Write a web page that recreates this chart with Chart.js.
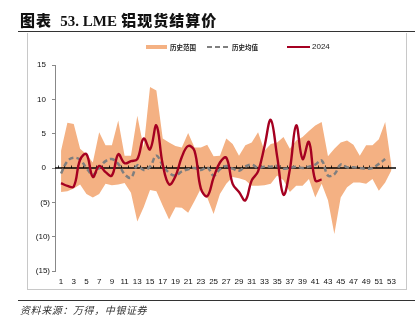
<!DOCTYPE html>
<html>
<head>
<meta charset="utf-8">
<script src="https://cdn.jsdelivr.net/npm/chart.js@4"></script>
<style>
  body { margin: 0; background: #fff; }
  #wrap { position: relative; width: 420px; height: 322px; overflow: hidden; font-family: "Liberation Sans", Arial, sans-serif; }
  #chart { position: absolute; left: 0; top: 0; }
  .abs { position: absolute; white-space: nowrap; }
  .title { left: 20px; top: 9px; font-size: 15px; font-weight: bold; color: #111; }
  .title .cn { font-family: "Noto Sans CJK SC", sans-serif; font-weight: 900; letter-spacing: 1px; }
  .title .en { font-family: "Liberation Serif", serif; font-weight: bold; }
  .rule { position: absolute; }
  .leg { font-family: "Noto Sans CJK SC", sans-serif; font-size: 6.5px; font-weight: bold; color: #222; top: 42px; }
  .src { left: 20px; top: 302px; font-family: "Noto Sans CJK SC", sans-serif; font-size: 10px; font-style: italic; color: #333; letter-spacing: 0.6px; }
</style>
</head>
<body>
<div id="wrap">
  <canvas id="chart" width="420" height="322"></canvas>

  <div class="abs title"><span class="cn">图表</span>&nbsp; <span class="en">53. LME</span> <span class="cn">铝现货结算价</span></div>
  <div class="rule" style="left:18px;top:31px;width:397px;height:1.3px;background:#333;"></div>
  <div class="rule" style="left:27px;top:33px;width:1px;height:256px;background:#c8c8c8;"></div>
  <div class="rule" style="left:406px;top:33px;width:1px;height:256px;background:#c8c8c8;"></div>
  <div class="rule" style="left:27px;top:289px;width:380px;height:1px;background:#c8c8c8;"></div>
  <div class="rule" style="left:18px;top:300px;width:397px;height:1.3px;background:#333;"></div>

  <!-- legend -->
  <div class="rule" style="left:146px;top:45px;width:21px;height:4px;background:#F4B183;"></div>
  <div class="abs leg" style="left:170px;">历史范围</div>
  <div class="rule" style="left:207px;top:46px;width:21px;height:2px;background:repeating-linear-gradient(90deg,#7F7F7F 0 5px,transparent 5px 8px);"></div>
  <div class="abs leg" style="left:232px;">历史均值</div>
  <div class="rule" style="left:287px;top:46px;width:23px;height:2px;background:#A50021;"></div>
  <div class="abs" style="left:312px;top:42px;font-size:8px;color:#222;">2024</div>

  <div class="abs src">资料来源：万得，中银证券</div>
</div>

<script>
// week numbers
const weeks = [1, 2, 3, 4, 5, 6, 7, 8, 9, 10, 11, 12, 13, 14, 15, 16, 17, 18, 19, 20,
    21, 22, 23, 24, 25, 26, 27, 28, 29, 30, 31, 32, 33, 34, 35, 36, 37, 38, 39, 40,
    41, 42, 43, 44, 45, 46, 47, 48, 49, 50, 51, 52, 53];
const xTickLabels = [1, 3, 5, 7, 9, 11, 13, 15, 17, 19, 21, 23, 25, 27, 29, 31, 33, 35, 37,
    39, 41, 43, 45, 47, 49, 51, 53];
const yTickValues = [15, 10, 5, 0, -5, -10, -15];

// historical range (max / min)
const rangeHigh = [2.5, 6.6, 6.4, 2.8, 2.0, 0.8, 5.2, 3.3, 3.3, 6.9, 1.8, 1.8, 7.6, 3.0, 11.8, 11.3, 4.3, 3.7,
    3.2, 3.0, 5.1, 3.0, 3.0, 3.4, 1.7, 1.8, 4.3, 3.5, 1.8, 3.3, 3.7, 5.2, 2.5, 3.5, 3.7, 4.5, 2.8, 4.0,
    4.5, 5.4, 6.2, 6.7, 1.7, 2.8, 3.7, 4.0, 3.4, 1.8, 3.3, 3.3, 4.2, 6.7, 0.2];
const rangeLow = [-3.5, -3.4, -3.0, -2.4, -3.8, -4.3, -3.8, -2.3, -2.5, -2.4, -2.2, -3.6, -7.8, -5.7, -3.2, -3.4,
    -5.5, -7.5, -5.7, -5.8, -6.5, -4.8, -3.0, -4.3, -6.7, -3.8, -2.3, -1.3, -1.5, -1.8, -2.6, -2.6, -2.5,
    -2.3, -1.1, -1.8, -3.5, -2.6, -2.6, -1.6, -4.3, -2.3, -4.7, -9.6, -4.3, -2.8, -2.1, -2.1, -2.3, -1.6,
    -3.3, -2.1, -0.3];
// historical mean
const histMean = [-0.8, 1.0, 1.5, 1.2, 0.0, -1.0, 0.0, 1.0, 1.3, 0.6, -0.9, -1.4, 0.4, -0.3, 0.2, 1.8, 0.4,
    -0.7, -1.1, -0.5, -0.2, 0.0, -0.3, 0.1, -1.1, -0.2, 0.3, -0.1, -0.4, 0.2, 0.5, 0.0, 0.2, 0.2, 0.3,
    -0.1, 0.0, 0.2, 0.0, 0.2, 0.5, 1.1, -1.1, -0.9, 0.5, 0.1, 0.1, 0.0, -0.1, 0.0, 0.6, 1.3, null];
// 2024
const y2024 = [-2.2, -2.6, -2.7, 1.2, 2.0, -1.3, 0.3, -0.6, -1.1, 2.0, 0.7, 1.0, 1.3, 4.3, 2.7, 6.2, 0.5,
    -2.4, -1.2, 1.6, 3.2, 2.5, -3.0, -4.1, -1.4, 0.8, 1.5, -2.3, -3.5, -4.7, -1.8, -0.5, 3.1, 7.0, 1.7,
    -3.9, -0.2, 6.2, 1.3, 3.8, -1.8, -1.7];

const toPoints = (arr) => arr.map((v, i) => ({ x: weeks[i], y: v }));

// zero line with small week ticks, drawn over the band but under the lines
const zeroLine = {
    id: 'zeroLine',
    afterDatasetDraw(chart, args) {
        if (args.index !== 0) return;
        const { ctx, chartArea, scales } = chart;
        const y0 = scales.y.getPixelForValue(0);
        ctx.save();
        ctx.strokeStyle = '#000';
        ctx.lineWidth = 1.3;
        ctx.beginPath();
        ctx.moveTo(chartArea.left, y0);
        ctx.lineTo(chartArea.right, y0);
        ctx.stroke();
        ctx.lineWidth = 0.8;
        weeks.forEach(w => {
            const x = Math.round(scales.x.getPixelForValue(w - 0.5)) + 0.5;
            ctx.beginPath();
            ctx.moveTo(x, y0 - 2.5);
            ctx.lineTo(x, y0);
            ctx.stroke();
        });
        ctx.restore();
    }
};

const ctx = document.getElementById('chart').getContext('2d');
new Chart(ctx, {
    type: 'line',
    data: {
        datasets: [
            {
                label: '历史范围',
                data: toPoints(rangeHigh),
                borderWidth: 0,
                backgroundColor: '#F4B183',
                fill: '+1',
                pointRadius: 0,
                tension: 0,
                order: 3
            },
            {
                label: 'low',
                data: toPoints(rangeLow),
                borderWidth: 0,
                borderColor: 'rgba(0,0,0,0)',
                fill: false,
                pointRadius: 0,
                tension: 0,
                order: 4
            },
            {
                label: '历史均值',
                data: toPoints(histMean),
                borderColor: '#7F7F7F',
                borderWidth: 2.5,
                borderDash: [5, 3],
                fill: false,
                pointRadius: 0,
                tension: 0.4,
                order: 1
            },
            {
                label: '2024',
                data: toPoints(y2024),
                borderColor: '#A50021',
                borderWidth: 2.4,
                fill: false,
                pointRadius: 0,
                tension: 0.4,
                order: 0
            }
        ]
    },
    options: {
        responsive: false,
        animation: false,
        devicePixelRatio: 1,
        layout: { padding: { left: 27, top: 65, right: 24, bottom: 35 } },
        plugins: {
            legend: { display: false },
            tooltip: { enabled: false }
        },
        scales: {
            x: {
                type: 'linear',
                min: 0.05,
                max: 53.7,
                afterBuildTicks: (scale) => {
                    scale.ticks = xTickLabels.map(v => ({ value: v }));
                },
                afterFit: (scale) => { scale.height = 16; },
                grid: { display: false, drawTicks: false },
                border: { display: false },
                ticks: {
                    autoSkip: false,
                    maxRotation: 0,
                    padding: 6,
                    color: '#111',
                    font: { family: 'Liberation Sans, Arial', size: 8 },
                    callback: (v) => String(v)
                }
            },
            y: {
                min: -15,
                max: 15,
                afterBuildTicks: (scale) => {
                    scale.ticks = yTickValues.map(v => ({ value: v }));
                },
                afterFit: (scale) => { scale.width = 28; },
                grid: { drawOnChartArea: false, drawTicks: true, tickLength: 3, color: '#888' },
                border: { display: true, color: '#888', width: 1 },
                ticks: {
                    padding: 2,
                    color: '#111',
                    font: { family: 'Liberation Sans, Arial', size: 8 },
                    callback: (v) => v < 0 ? '(' + (-v) + ')' : v + '\u2002'
                }
            }
        }
    },
    plugins: [zeroLine]
});
</script>
</body>
</html>
